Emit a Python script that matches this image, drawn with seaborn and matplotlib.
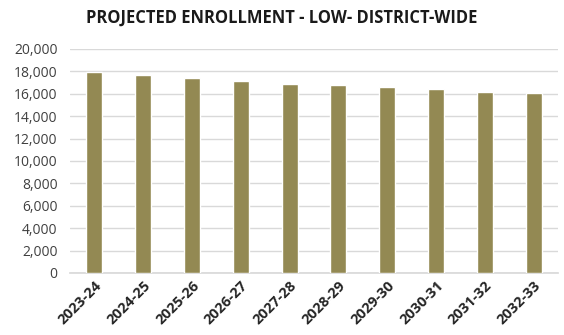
import matplotlib
matplotlib.use("Agg")
import matplotlib.pyplot as plt
import seaborn as sns
import pandas as pd
from matplotlib.ticker import FuncFormatter, MultipleLocator

years = ["2023-24", "2024-25", "2025-26", "2026-27", "2027-28",
         "2028-29", "2029-30", "2030-31", "2031-32", "2032-33"]
enrollment = [17950, 17680, 17380, 17100, 16900, 16790, 16580, 16400, 16170, 16050]

sns.set_theme(style="white")
plt.rcParams["font.family"] = ["Open Sans", "DejaVu Sans"]

df = pd.DataFrame({"year": years, "enrollment": enrollment})

fig = plt.figure(figsize=(5.64, 3.35), dpi=100)
ax = fig.add_axes([70 / 564, 1 - 273 / 335, (558 - 70) / 564, (273 - 49) / 335])

sns.barplot(data=df, x="year", y="enrollment", color="#938953",
            width=0.33, saturation=1, ax=ax, zorder=3)

ax.set_ylim(0, 20000)
ax.yaxis.set_major_locator(MultipleLocator(2000))
ax.yaxis.set_major_formatter(FuncFormatter(lambda v, p: f"{int(v):,}"))
ax.grid(axis="y", color="#d9d9d9", linewidth=1, zorder=0)
for s in ["top", "right", "left"]:
    ax.spines[s].set_visible(False)
ax.spines["bottom"].set_color("#d9d9d9")
ax.set_xlabel("")
ax.set_ylabel("")
ax.tick_params(axis="y", labelsize=10, colors="#404040", length=0, pad=9)
ax.tick_params(axis="x", length=0, pad=4)
for lbl in ax.get_xticklabels():
    lbl.set_rotation(45)
    lbl.set_ha("right")
    lbl.set_rotation_mode("anchor")
    lbl.set_fontsize(10.5)
    lbl.set_fontweight("bold")
    lbl.set_color("#262626")

fig.text(0.5, 1 - 18 / 335, "PROJECTED ENROLLMENT - LOW- DISTRICT-WIDE",
         ha="center", va="center", fontsize=11.9, fontweight="bold", color="#1a1a1a")

fig.savefig("out.png", dpi=100)
